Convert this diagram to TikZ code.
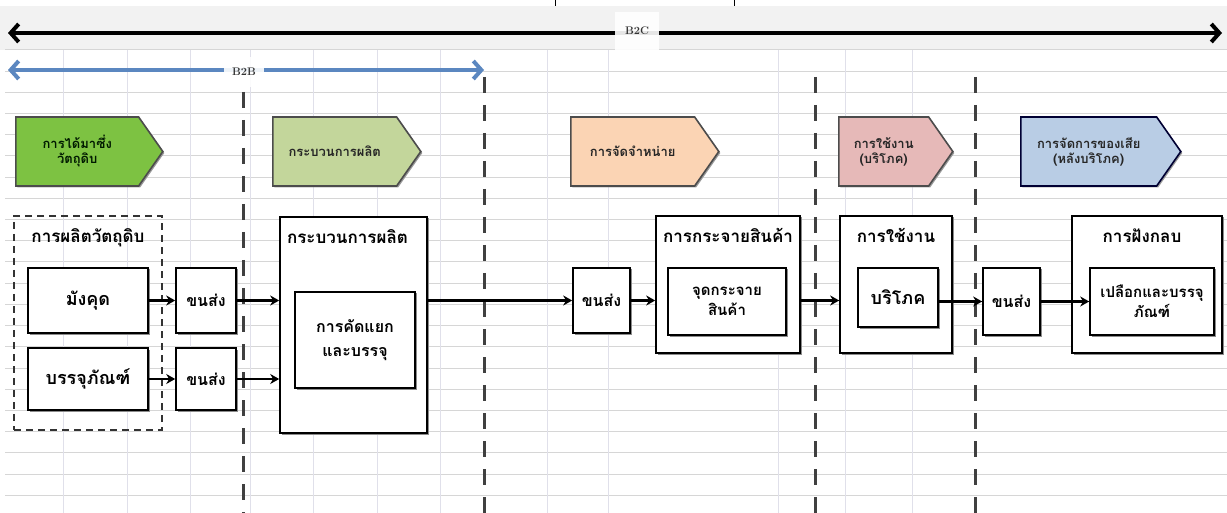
\documentclass[tikz,border=0pt]{standalone}
\usepackage{fontspec}
\newfontfamily\thai[Script=Thai]{Loma}
\usetikzlibrary{arrows.meta,shapes.symbols,shadows}

\definecolor{band}{HTML}{F2F2F2}
\definecolor{hgrid}{HTML}{D6D6D6}
\definecolor{vgrid}{HTML}{E0E0EA}
\definecolor{b2bblue}{HTML}{5B87C0}
\definecolor{pgreen}{HTML}{7DC242}
\definecolor{polive}{HTML}{C3D69B}
\definecolor{ppeach}{HTML}{FBD4B4}
\definecolor{ppink}{HTML}{E6B9B8}
\definecolor{pblue}{HTML}{B9CDE5}

\begin{document}
\begin{tikzpicture}[x=1pt,y=-1pt,
  bigarrow/.style={line width=4pt,{Straight Barb[length=8pt,width=18pt,line width=4pt]}-{Straight Barb[length=8pt,width=18pt,line width=4pt]}},
  tag/.style={fill=white,fill opacity=0.9,text opacity=1,inner sep=0pt,text=black!80,font=\bfseries\fontsize{11}{12}\selectfont},
  phase/.style={signal,signal to=east,signal pointer angle=110,draw=black!70,line width=1.6pt,
    minimum height=69pt,inner sep=0pt,align=center,text=black!85,anchor=west,
    font=\thai\bfseries\fontsize{13}{15}\selectfont,
    drop shadow={shadow xshift=1.5pt,shadow yshift=-1.5pt,fill=black!40,opacity=1}},
  box/.style={draw=black,line width=1.6pt,fill=white,inner sep=0pt,align=center,
    font=\thai\bfseries\fontsize{18}{22}\selectfont,
    drop shadow={shadow xshift=1.5pt,shadow yshift=-1.5pt,fill=black!45,opacity=1}},
  hop/.style={box,font=\thai\bfseries\fontsize{16}{18}\selectfont},
  inner/.style={box,font=\thai\bfseries\fontsize{15}{20}\selectfont},
  title/.style={inner sep=0pt,font=\thai\bfseries\fontsize{17}{20}\selectfont},
  divider/.style={draw=black!75,line width=3pt,dash pattern=on 16pt off 12pt},
  flow/.style={draw=black,line width=2.5pt,-{Stealth[length=9pt,width=10pt]}}
]
\useasboundingbox (0,0) rectangle (1227,513);
\fill[white] (0,0) rectangle (1227,513);
\fill[band] (0,6) rectangle (1227,50);

% worksheet grid
\foreach \yy in {0,...,21} \draw[hgrid,line width=1pt] (5,50+21.2*\yy) -- (1227,50+21.2*\yy);
\foreach \xx in {63,127,190,250,313,377,440,547,608,778,845,912} \draw[vgrid,line width=0.8pt] (\xx,50) -- (\xx,513);
\draw[black,line width=1pt] (555,0) -- (555,6);
\draw[black,line width=1pt] (734,0) -- (734,6);

% market scopes
\coordinate (c2cL) at (8,33);
\coordinate (c2cR) at (1222,33);
\draw[bigarrow,black] (c2cL) -- (c2cR);
\node[tag,minimum width=44pt,minimum height=38pt] (b2c) at (637,31) {B2C};
\coordinate (b2bL) at (8,70);
\coordinate (b2bR) at (484,70);
\draw[bigarrow,b2bblue] (b2bL) -- (b2bR);
\node[tag,minimum width=40pt,minimum height=30pt] (b2b) at (244,72) {B2B};

% stage dividers
\coordinate (d1t) at (243,92);  \coordinate (d1b) at (243,513);
\coordinate (d2t) at (484,77);  \coordinate (d2b) at (484,513);
\coordinate (d3t) at (815,77);  \coordinate (d3b) at (815,513);
\coordinate (d4t) at (975,77);  \coordinate (d4b) at (975,513);
\draw[divider] (d1t) -- (d1b);
\draw[divider] (d2t) -- (d2b);
\draw[divider] (d3t) -- (d3b);
\draw[divider] (d4t) -- (d4b);

% life-cycle phases
\node[phase,fill=pgreen,minimum width=147pt,text=black!90!green] (p1) at (15,151.5) {การได้มาซึ่ง\\วัตถุดิบ};
\node[phase,fill=polive,minimum width=148pt] (p2) at (272,151.5) {กระบวนการผลิต};
\node[phase,fill=ppeach,minimum width=148pt] (p3) at (570,151.5) {การจัดจำหน่าย};
\node[phase,fill=ppink,minimum width=114pt] (p4) at (838,151.5) {การใช้งาน\\(บริโภค)};
\node[phase,fill=pblue,minimum width=160pt,draw=black!80!blue] (p5) at (1020,151.5) {การจัดการของเสีย\\(หลังบริโภค)};

% raw material production
\node[draw=black!80,line width=1.6pt,dash pattern=on 7pt off 5pt,minimum width=148pt,minimum height=214pt] (raw) at (88,323) {};
\node[title,anchor=north] (rawT) at ([yshift=-13pt]raw.north) {การผลิตวัตถุดิบ};
\node[box,minimum width=120pt,minimum height=65pt] (mang) at (88,300.5) {มังคุด};
\node[box,minimum width=120pt,minimum height=62pt] (pkg) at (88,379) {บรรจุภัณฑ์};
\node[hop,minimum width=60pt,minimum height=65pt] (t1) at (206,300.5) {ขนส่ง};
\node[hop,minimum width=60pt,minimum height=62pt] (t2) at (206,379) {ขนส่ง};

% production
\node[box,minimum width=147pt,minimum height=216pt] (prod) at (353.5,325) {};
\node[title,anchor=north] (prodT) at ([yshift=-13pt,xshift=-6pt]prod.north) {กระบวนการผลิต};
\node[box,minimum width=120pt,minimum height=96pt,font=\thai\bfseries\fontsize{16}{24}\selectfont] (sort) at (355,340) {การคัดแยก\\และบรรจุ};

% distribution
\node[hop,minimum width=57pt,minimum height=65pt] (t3) at (601.5,300.5) {ขนส่ง};
\node[box,minimum width=144pt,minimum height=137pt] (dist) at (728,284.5) {};
\node[title,anchor=north] (distT) at ([yshift=-13pt]dist.north) {การกระจายสินค้า};
\node[inner,minimum width=118pt,minimum height=67pt] (dpt) at (727,301.5) {จุดกระจาย\\สินค้า};

% use
\node[box,minimum width=112pt,minimum height=137pt] (use) at (896,284.5) {};
\node[title,anchor=north] (useT) at ([yshift=-13pt]use.north) {การใช้งาน};
\node[box,minimum width=80pt,minimum height=59pt] (cons) at (898,297.5) {บริโภค};

% end of life
\node[hop,minimum width=57pt,minimum height=67pt] (t4) at (1011.5,301.5) {ขนส่ง};
\node[box,minimum width=150pt,minimum height=137pt] (land) at (1147,284.5) {};
\node[title,anchor=north] (landT) at ([yshift=-13pt,xshift=-5pt]land.north) {การฝังกลบ};
\node[inner,minimum width=124pt,minimum height=67pt] (lpk) at (1152,301.5) {เปลือกและบรรจุ\\ภัณฑ์};

% material flow
\draw[flow] (mang.east) -- (t1.west);
\draw[flow] (pkg.east) -- (t2.west);
\draw[flow] (t1.east) -- (t1.east -| prod.west);
\draw[flow] (t2.east) -- (t2.east -| prod.west);
\draw[flow] (t3.west -| prod.east) -- (t3.west);
\draw[flow] (t3.east) -- (t3.east -| dist.west);
\draw[flow] (t3.east -| dist.east) -- (t3.east -| use.west);
\draw[flow] (t4.west -| cons.east) -- (t4.west);
\draw[flow] (t4.east) -- (lpk.west);
\end{tikzpicture}
\end{document}
